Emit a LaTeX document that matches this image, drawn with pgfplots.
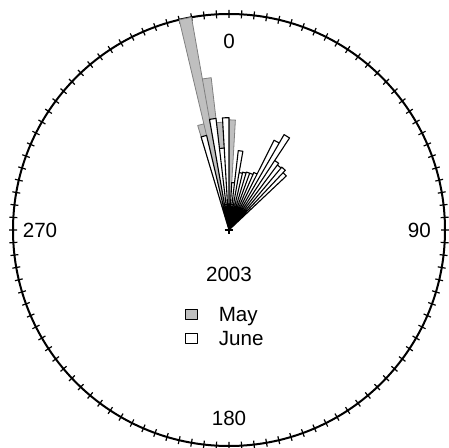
\documentclass[border=0pt]{standalone}
\usepackage{fontspec}
\setmainfont{Liberation Sans}
\usepackage{pgfplots}
\pgfplotsset{compat=1.18}
\usepgfplotslibrary{polar}
\begin{document}
\fontsize{10}{12}\selectfont
\begin{tikzpicture}
\begin{polaraxis}[
  scale only axis, width=216pt, height=216pt,
  xmin=0, xmax=360, ymin=0, ymax=1,
  x filter/.expression={mod(450-x,360)},
  xtick={0,3.3333,...,356.7},
  xticklabel=\empty,
  ytick=\empty,
  yticklabel=\empty,
  xmajorgrids=false, ymajorgrids=false,
  major tick length=4pt, tick align=center,
  tick style={line width=0.6pt, black},
  x axis line style={line width=1pt},
  y axis line style={draw=none},
  clip=false,
  legend style={draw=none, fill=none, inner sep=0pt, outer sep=0pt,
    at={(axis description cs:0.398,0.3315)}, anchor=north west,
    column sep=9.5pt, row sep=0pt,
    nodes={inner sep=1pt, text height=8.6pt, text depth=1.4pt, font=\fontsize{10.3}{12}\selectfont}},
  legend cell align=left,
  legend image code/.code={\draw[#1, draw=black, line width=0.65pt] (0pt,-2.5pt) rectangle (5.8pt,2.5pt);},
]
% May
\addplot[fill=gray!50, draw=black!50, line width=0.4pt, line join=round] coordinates {
  (0,0) (-16.667,0.505) (-13.333,0.505) (0,0)
  (-13.333,1.0) (-10,1.0) (0,0)
  (-10,0.71) (-6.667,0.71) (0,0)
  (-6.667,0.50) (-3.333,0.50) (0,0)
  (-3.333,0.50) (0,0.50) (0,0)
  (0,0.51) (3.333,0.51) (0,0)
};
\addlegendentry{May}
% June
\addplot[fill=white, draw=black, line width=0.55pt, line join=round] coordinates {
  (0,0) (-16.667,0.45) (-13.333,0.45) (0,0)
  (-10,0.52) (-6.667,0.52) (0,0)
  (-6.667,0.38) (-3.333,0.38) (0,0)
  (-3.333,0.52) (0,0.52) (0,0)
  (3.333,0.22) (6.667,0.22) (0,0)
  (6.667,0.37) (10,0.37) (0,0)
  (10,0.27) (13.333,0.27) (0,0)
  (13.333,0.275) (16.667,0.275) (0,0)
  (16.667,0.28) (20,0.28) (0,0)
  (20,0.28) (23.333,0.28) (0,0)
  (23.333,0.29) (26.667,0.29) (0,0)
  (26.667,0.465) (30,0.465) (0,0)
  (30,0.51) (33.333,0.51) (0,0)
  (33.333,0.385) (36.667,0.385) (0,0)
  (36.667,0.375) (40,0.375) (0,0)
  (40,0.38) (43.333,0.38) (0,0)
  (43.333,0.365) (46.667,0.365) (0,0)
};
\addlegendentry{June}
\addplot[only marks, mark=+, mark size=2.2pt, line width=0.7pt, forget plot] coordinates {(0,0)};
\coordinate (c) at (axis cs:0,0);
\node[font=\fontsize{10.3}{12}\selectfont] at (axis cs:90,0.873) {0};
\node[font=\fontsize{10.3}{12}\selectfont] at (axis cs:0,0.881) {90};
\node[font=\fontsize{10.3}{12}\selectfont] at (axis cs:180,0.875) {270};
\node[font=\fontsize{10.3}{12}\selectfont] at (axis cs:270,0.870) {180};
\node[font=\fontsize{10.3}{12}\selectfont] at (axis cs:270,0.2046) {2003};
\end{polaraxis}
\pgfresetboundingbox
\path[use as bounding box] (c) ++(-114.5pt,-109pt) rectangle ++(224pt,224pt);
\end{tikzpicture}
\end{document}
